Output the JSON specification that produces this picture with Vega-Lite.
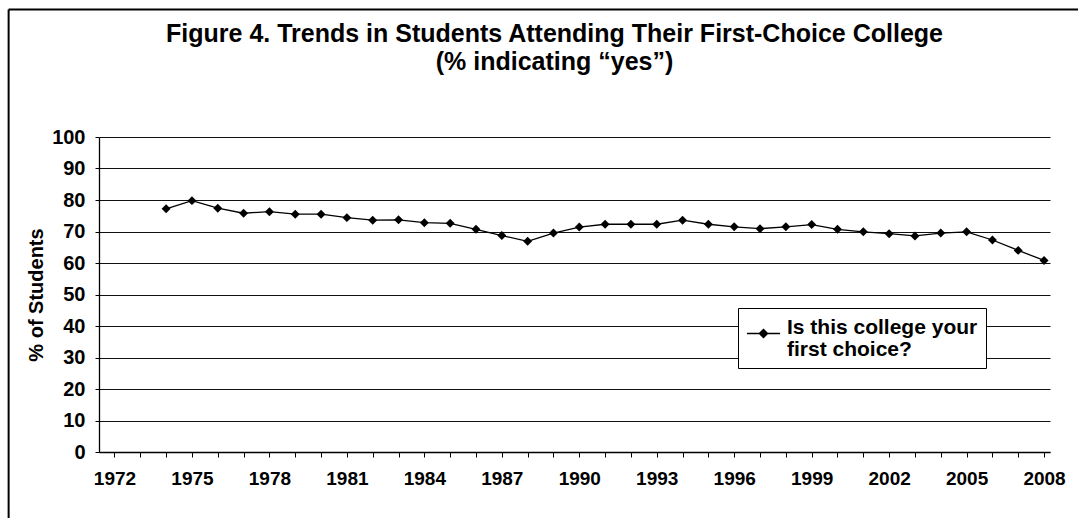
{
  "$schema": "https://vega.github.io/schema/vega-lite/v6.json",
  "autosize": {"type": "none"},
  "width": 951,
  "height": 315,
  "padding": {"left": 99, "top": 137, "right": 28, "bottom": 66},
  "background": "white",
  "title": {
    "text": ["Figure 4. Trends in Students Attending Their First-Choice College", "(% indicating \u201cyes\u201d)"],
    "font": "Liberation Sans",
    "fontWeight": "bold",
    "fontSize": 25,
    "lineHeight": 28,
    "anchor": "middle",
    "frame": "group",
    "dx": -20,
    "offset": 0,
    "dy": 67,
    "color": "black"
  },
  "datasets": {
    "border": [{"part": "frame"}]
  },
  "data": {
    "values": [
      {"year": 1974, "pct": 77.2, "series": "Is this college your first choice?"},
      {"year": 1975, "pct": 79.8, "series": "Is this college your first choice?"},
      {"year": 1976, "pct": 77.4, "series": "Is this college your first choice?"},
      {"year": 1977, "pct": 75.8, "series": "Is this college your first choice?"},
      {"year": 1978, "pct": 76.3, "series": "Is this college your first choice?"},
      {"year": 1979, "pct": 75.5, "series": "Is this college your first choice?"},
      {"year": 1980, "pct": 75.5, "series": "Is this college your first choice?"},
      {"year": 1981, "pct": 74.4, "series": "Is this college your first choice?"},
      {"year": 1982, "pct": 73.6, "series": "Is this college your first choice?"},
      {"year": 1983, "pct": 73.7, "series": "Is this college your first choice?"},
      {"year": 1984, "pct": 72.8, "series": "Is this college your first choice?"},
      {"year": 1985, "pct": 72.6, "series": "Is this college your first choice?"},
      {"year": 1986, "pct": 70.7, "series": "Is this college your first choice?"},
      {"year": 1987, "pct": 68.7, "series": "Is this college your first choice?"},
      {"year": 1988, "pct": 66.9, "series": "Is this college your first choice?"},
      {"year": 1989, "pct": 69.5, "series": "Is this college your first choice?"},
      {"year": 1990, "pct": 71.4, "series": "Is this college your first choice?"},
      {"year": 1991, "pct": 72.3, "series": "Is this college your first choice?"},
      {"year": 1992, "pct": 72.3, "series": "Is this college your first choice?"},
      {"year": 1993, "pct": 72.3, "series": "Is this college your first choice?"},
      {"year": 1994, "pct": 73.6, "series": "Is this college your first choice?"},
      {"year": 1995, "pct": 72.3, "series": "Is this college your first choice?"},
      {"year": 1996, "pct": 71.5, "series": "Is this college your first choice?"},
      {"year": 1997, "pct": 70.9, "series": "Is this college your first choice?"},
      {"year": 1998, "pct": 71.5, "series": "Is this college your first choice?"},
      {"year": 1999, "pct": 72.2, "series": "Is this college your first choice?"},
      {"year": 2000, "pct": 70.7, "series": "Is this college your first choice?"},
      {"year": 2001, "pct": 69.9, "series": "Is this college your first choice?"},
      {"year": 2002, "pct": 69.3, "series": "Is this college your first choice?"},
      {"year": 2003, "pct": 68.6, "series": "Is this college your first choice?"},
      {"year": 2004, "pct": 69.5, "series": "Is this college your first choice?"},
      {"year": 2005, "pct": 69.9, "series": "Is this college your first choice?"},
      {"year": 2006, "pct": 67.3, "series": "Is this college your first choice?"},
      {"year": 2007, "pct": 64.0, "series": "Is this college your first choice?"},
      {"year": 2008, "pct": 60.8, "series": "Is this college your first choice?"}
    ]
  },
  "layer": [
    {
      "mark": {"type": "line", "strokeWidth": 1.3, "color": "black"},
      "encoding": {
        "x": {
          "field": "year",
          "type": "quantitative",
          "scale": {"domain": [1971.4, 2008.23], "nice": false, "zero": false},
          "axis": {
            "title": null,
            "tickCount": 37,
            "values": [1972,1973,1974,1975,1976,1977,1978,1979,1980,1981,1982,1983,1984,1985,1986,1987,1988,1989,1990,1991,1992,1993,1994,1995,1996,1997,1998,1999,2000,2001,2002,2003,2004,2005,2006,2007,2008],
            "labelExpr": "(datum.value - 1972) % 3 == 0 ? format(datum.value, 'd') : ''",
            "labelOverlap": false,
            "labelFlush": false,
            "grid": false,
            "domainColor": "black",
            "domainWidth": 1.3,
            "tickColor": "black",
            "tickSize": 5,
            "labelPadding": 12,
            "labelFont": "Liberation Sans",
            "labelFontWeight": "bold",
            "labelFontSize": 19,
            "labelColor": "black"
          }
        },
        "y": {
          "field": "pct",
          "type": "quantitative",
          "scale": {"domain": [0, 100], "nice": false, "zero": true},
          "axis": {
            "title": "% of Students",
            "tickCount": 11,
            "values": [0,10,20,30,40,50,60,70,80,90,100],
            "labelOverlap": false,
            "grid": true,
            "gridColor": "#111",
            "gridWidth": 1,
            "domainColor": "black",
            "domainWidth": 1.3,
            "tickColor": "black",
            "tickSize": 4,
            "labelPadding": 10,
            "labelFont": "Liberation Sans",
            "labelFontWeight": "bold",
            "labelFontSize": 20,
            "labelColor": "black",
            "titleFont": "Liberation Sans",
            "titleFontWeight": "bold",
            "titleFontSize": 20,
            "titleColor": "black",
            "titlePadding": 5
          }
        },
        "color": {
          "field": "series",
          "type": "nominal",
          "scale": {"range": ["black"]},
          "legend": {
            "title": null,
            "orient": "none",
            "legendX": 639,
            "legendY": 171,
            "padding": 8,
            "strokeColor": "black",
            "fillColor": "white",
            "symbolType": "M-1,0H1M-0.25,0L0,-0.25L0.25,0L0,0.25Z",
            "symbolSize": 1100,
            "symbolStrokeWidth": 1.3,
            "symbolStrokeColor": "black",
            "symbolFillColor": "black",
            "labelFont": "Liberation Sans",
            "labelFontWeight": "bold",
            "labelFontSize": 21,
            "labelColor": "black",
            "labelLimit": 0,
            "labelOffset": 6,
            "labelBaseline": "alphabetic",
            "labelExpr": "[slice(datum.label, 0, 20), slice(datum.label, 21)]",
            "encode": {
              "symbols": {"update": {"fill": {"value": "black"}, "stroke": {"value": "black"}}},
              "labels": {"update": {"lineHeight": {"value": 22}}}
            }
          }
        }
      }
    },
    {
      "mark": {"type": "point", "shape": "diamond", "filled": true, "size": 80, "opacity": 1},
      "encoding": {
        "x": {"field": "year", "type": "quantitative"},
        "y": {"field": "pct", "type": "quantitative"},
        "color": {"field": "series", "type": "nominal", "legend": null}
      }
    },
    {
      "data": {"name": "border"},
      "mark": {"type": "rule", "stroke": "black", "strokeWidth": 2},
      "encoding": {
        "x": {"datum": 1967.9, "type": "quantitative"},
        "x2": {"datum": 2012},
        "y": {"datum": 140.5, "type": "quantitative"}
      }
    },
    {
      "data": {"name": "border"},
      "mark": {"type": "rule", "stroke": "black", "strokeWidth": 2},
      "encoding": {
        "x": {"datum": 1967.9, "type": "quantitative"},
        "y": {"datum": 140.5, "type": "quantitative"},
        "y2": {"datum": -25}
      }
    }
  ],
  "config": {
    "view": {"stroke": null}
  }
}
